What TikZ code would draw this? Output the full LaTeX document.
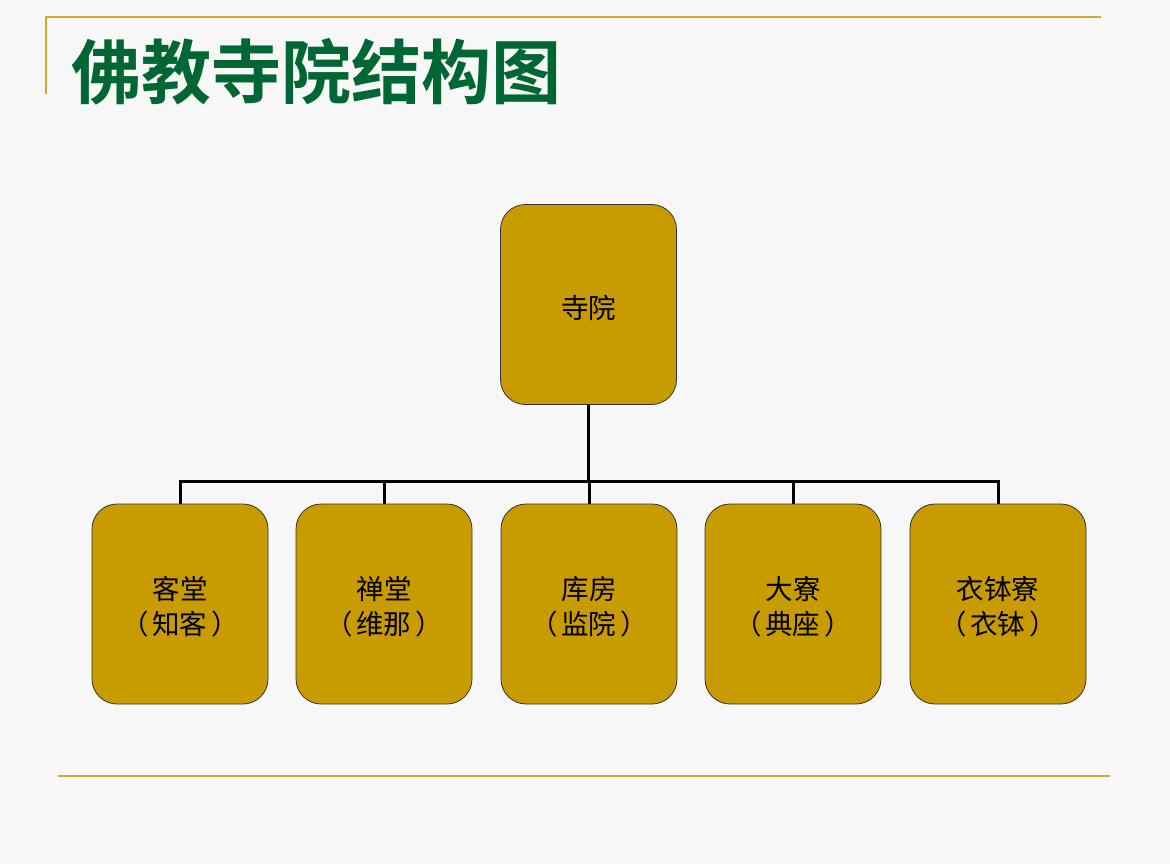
\documentclass[tikz,border=0pt]{standalone}
\usepackage{fontspec}
\newfontfamily\cjk[RawFeature=-kern]{Noto Sans CJK SC}
\newfontfamily\cjkbold{Noto Sans CJK SC Bold}
\definecolor{bg}{HTML}{F7F7F7}
\definecolor{gold}{HTML}{C89B00}
\definecolor{rule}{HTML}{D4A82A}
\definecolor{titlegreen}{HTML}{006633}
\newcommand{\pl}{（\kern4pt}
\newcommand{\pr}{\kern4pt）}
\tikzset{
  unit/.style={draw=black!80, line width=0.8pt, fill=gold, rounded corners=25pt,
    minimum width=176pt, minimum height=200pt, inner sep=0pt},
  lbl/.style={font=\cjk\fontsize{27.5}{35}\selectfont, align=center, inner sep=0pt},
  link/.style={line width=3pt, black}
}
\begin{document}
\begin{tikzpicture}[x=1pt,y=-1pt]
\fill[bg] (0,0) rectangle (1170,864);
\useasboundingbox (0,0) rectangle (1170,864);
\draw[rule, line width=2.5pt] (46,94) -- (46,17) -- (1101,17);
\draw[rule, line width=2.5pt] (58,776) -- (1110,776);
\node[anchor=west, text=titlegreen, font=\cjkbold\fontsize{70}{70}\selectfont, inner sep=0pt] (title) at (71,72) {佛教寺院结构图};
\node[unit] (root) at (588.5,304.5) {};
\node[lbl] (roott) at ([yshift=-3pt]root.center) {寺院};
\node[unit] (a) at (180,604) {};
\node[unit] (b) at (384,604) {};
\node[unit] (c) at (589,604) {};
\node[unit] (d) at (793,604) {};
\node[unit] (e) at (998,604) {};
\foreach \n/\t/\u in {a/客堂/知客, b/禅堂/维那, c/库房/监院, d/大寮/典座, e/衣钵寮/衣钵}{
  \node[lbl] (\n t) at ([yshift=-3pt]\n.center) {\t\\\pl\u\pr};
}
\coordinate (bus) at (588.5,481);
\draw[link] (root.south) -- (bus);
\foreach \n in {a,b,c,d,e}{
  \draw[link] (\n.north) -- (\n.north |- bus);
}
\draw[link] ([xshift=-1.5pt]a.north |- bus) -- ([xshift=1.5pt]e.north |- bus);
\end{tikzpicture}
\end{document}
